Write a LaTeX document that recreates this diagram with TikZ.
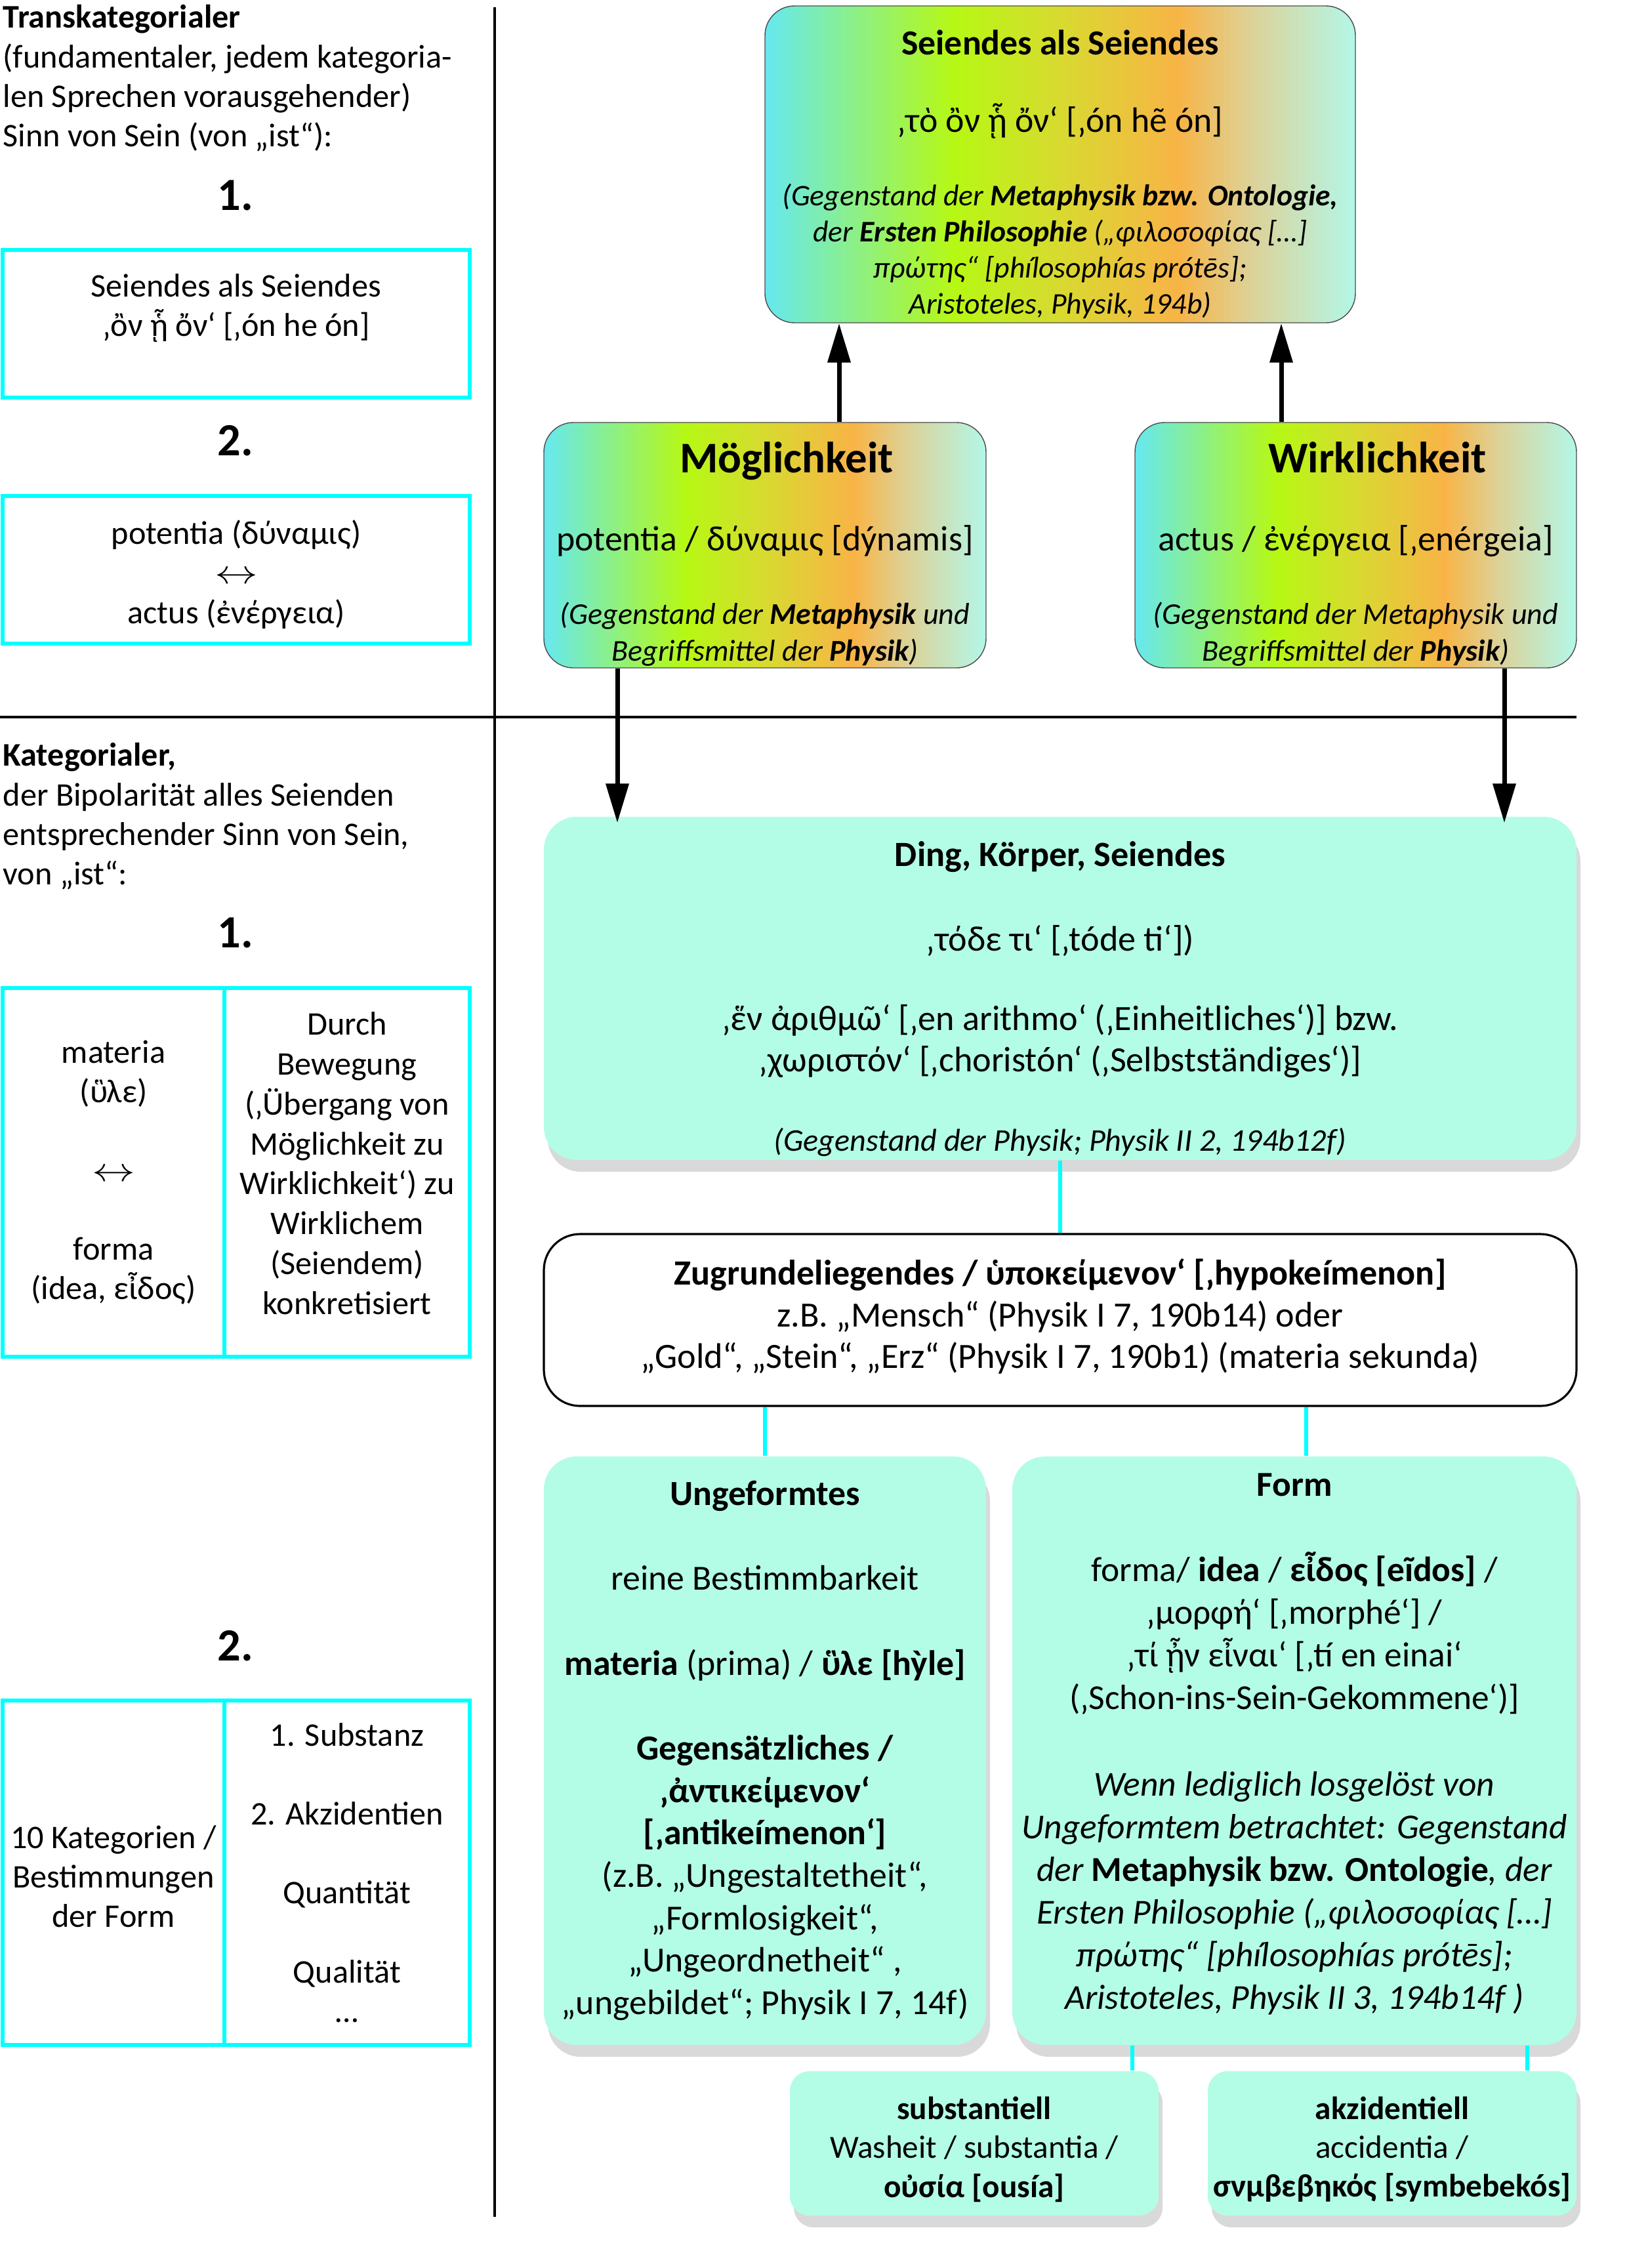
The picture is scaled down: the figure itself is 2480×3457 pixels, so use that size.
\documentclass[tikz,border=0pt]{standalone}
\usepackage{fontspec}
\usepackage{graphicx}
\setmainfont{Carlito}
\usetikzlibrary{arrows.meta,shadows}
\definecolor{aqua}{HTML}{00FFFF}
\definecolor{mint}{HTML}{B3FDE6}
\definecolor{gcyan}{HTML}{66E8F0}
\definecolor{glime}{HTML}{B6F814}
\definecolor{gsand}{HTML}{D8DA30}
\definecolor{gorange}{HTML}{F8B446}
\definecolor{gtan}{HTML}{DDD196}
\definecolor{gmint}{HTML}{B3F7E8}
\pgfdeclarehorizontalshading{rainbow}{100bp}{color(0bp)=(gcyan); color(25bp)=(gcyan); color(41bp)=(glime); color(50bp)=(gsand); color(60bp)=(gorange); color(66bp)=(gtan); color(75bp)=(gmint); color(100bp)=(gmint)}
\newcommand{\fsz}[2]{\fontsize{#1}{#2}\selectfont}
% italic small line, first line lift, last line drop
\newcommand{\sm}[2]{{\fsz{#1}{#1}\itshape #2}}
\newcommand{\toph}[1]{\rule{0pt}{#1}}
\newcommand{\both}[1]{\rule[-#1]{0pt}{0pt}}
\newcommand{\lr}{\scalebox{1.3}[1]{$\leftrightarrow$}}
\tikzset{
  gradbox/.style={draw=black!70, line width=0.4pt, shading=rainbow, rounded corners=4.5mm, align=center, inner sep=0pt},
  mintbox/.style={fill=mint, rounded corners=5mm, align=center, inner sep=0pt, drop shadow={shadow xshift=0.6mm, shadow yshift=-1.8mm, opacity=0.3}},
  plainbox/.style={draw=black, line width=0.9pt, fill=white, rounded corners=5.5mm, align=center, inner sep=0pt},
  cell/.style={draw=aqua, line width=0.66mm, align=center, inner sep=0pt, font=\fsz{14.3}{17.1}},
  lead/.style={anchor=north west, align=left, inner sep=0pt, font=\fsz{14.3}{17.1}},
  numeral/.style={font=\fsz{20}{24}\bfseries, inner sep=0pt},
  flow/.style={-{Triangle[length=6mm, width=3.4mm]}, line width=0.7mm},
  link/.style={draw=aqua, line width=0.6mm},
}

\begin{document}
\begin{tikzpicture}[x=0.1mm, y=-0.1mm]
\useasboundingbox (0,0) rectangle (2480,3457);
% left column
\node[lead] (transkat) at (4,7) {\textbf{Transkategorialer}\\ (fundamentaler, jedem kategoria-\\ len Sprechen vorausgehender)\\ Sinn von Sein (von „ist“):};
\node[numeral] (eins1) at (359,298) {1.};
\node[cell, minimum width=71.2mm, minimum height=22.5mm] (ousia) at (360,493.5) {\toph{16pt}Seiendes als Seiendes\\ ‚ὂν ᾗ ὄν‘ [‚ón he ón]\\ \strut};
\node[numeral] (zwei1) at (359,672) {2.};
\node[cell, minimum width=71.2mm, minimum height=22.5mm] (dynamis) at (360,868.5) {\toph{14.5pt}potentia (δύναμις)\\ \lr\\ actus (ἐνέργεια)};
\node[lead] (kateg) at (4,1132) {\textbf{Kategorialer,}\\ der Bipolarität alles Seienden\\ entsprechender Sinn von Sein,\\ von „ist“:};
\node[numeral] (eins2) at (359,1422) {1.};
\node[cell, minimum width=33.8mm, minimum height=56.2mm] (materia) at (173,1787) {materia\\ (ὓλε)\\[17.1pt] \lr\\[17.1pt] forma\\ (idea, εἶδος)};
\node[cell, minimum width=37.4mm, minimum height=56.2mm, font=\fsz{14.3}{17.3}] (bewegung) at (529,1787) {Durch\\ Bewegung\\ (‚Übergang von\\ Möglichkeit zu\\ Wirklichkeit‘) zu\\ Wirklichem\\ (Seiendem)\\ konkretisiert\both{8pt}};
\node[numeral] (zwei2) at (359,2509) {2.};
\node[cell, minimum width=33.8mm, minimum height=52.5mm] (kat) at (173,2854.5) {\toph{13pt}10 Kategorien /\\ Bestimmungen\\ der Form};
\node[cell, minimum width=37.4mm, minimum height=52.5mm] (liste) at (529,2854.5) {1. Substanz\\[17.1pt] 2. Akzidentien\\[17.1pt] Quantität\\[17.1pt] Qualität\\ …};
\draw[line width=0.45mm] (754,11) -- (754,3379);
\draw[line width=0.45mm] (0,1093) -- (2403,1093);
% right column
\node[gradbox, minimum width=90mm, minimum height=48.3mm, font=\fsz{15.3}{15.7}] (seiendes) at (1616,250.5) {\toph{19.5pt}\textbf{Seiendes als Seiendes}\\[18pt] ‚τὸ ὂν ᾗ ὄν‘ [‚ón hẽ ón]\\[16pt] \sm{13}{(Gegenstand der \textbf{Metaphysik bzw. Ontologie,}}\\ \sm{13}{der \textbf{Ersten Philosophie} („φιλοσοφίας […]}\\ \sm{13}{πρώτης“ [phílosophías prótēs];}\\ \sm{13}{Aristoteles, Physik, 194b)}};
\node[gradbox, minimum width=67.4mm, minimum height=37.4mm, font=\fsz{15.3}{15.9}] (moeg) at (1166,831) {\toph{21pt}\hspace*{6.6mm}{\fsz{19}{15.9}\bfseries Möglichkeit}\\[18pt] potentia / δύναμις [dýnamis]\\[16pt] \sm{13.1}{(Gegenstand der \textbf{Metaphysik} und}\\ \sm{13.1}{Begriffsmittel der \textbf{Physik})}};
\node[gradbox, minimum width=67.3mm, minimum height=37.4mm, font=\fsz{15.3}{15.9}] (wirk) at (2066.5,831) {\toph{21pt}\hspace*{6.6mm}{\fsz{19}{15.9}\bfseries Wirklichkeit}\\[18pt] actus / ἐνέργεια [‚enérgeia]\\[16pt] \sm{13.1}{(Gegenstand der Metaphysik und}\\ \sm{13.1}{Begriffsmittel der \textbf{Physik})}};
\node[mintbox, minimum width=157.4mm, minimum height=52.3mm, font=\fsz{15.4}{18.1}] (ding) at (1616,1506.5) {\toph{19.8pt}\textbf{Ding, Körper, Seiendes}\\[18.7pt] ‚τόδε τι‘ [‚tóde ti‘])\\[16.2pt] ‚ἕν ἀριθμῶ‘ [‚en arithmo‘ (‚Einheitliches‘)] bzw.\\ ‚χωριστόν‘ [‚choristón‘ (‚Selbstständiges‘)]\\[16.2pt] \sm{13.7}{(Gegenstand der Physik; Physik II 2, 194b12f)}};
\node[plainbox, minimum width=157.4mm, minimum height=26.2mm, font=\fsz{15.4}{18.1}] (grund) at (1616,2012) {\textbf{Zugrundeliegendes / ὑποκείμενον‘ [‚hypokeímenon]}\\ z.B. „Mensch“ (Physik I 7, 190b14) oder\\ „Gold“, „Stein“, „Erz“ (Physik I 7, 190b1) (materia sekunda)\both{5.5pt}};
\node[mintbox, minimum width=67.4mm, minimum height=89.7mm, font=\fsz{15.3}{18.4}] (unge) at (1166,2668.5) {\textbf{Ungeformtes}\\[18.4pt] reine Bestimmbarkeit\\[18.4pt] \textbf{materia} (prima) / \textbf{ὓλε [hỳle]}\\[18.4pt] \textbf{Gegensätzliches /}\\ \textbf{‚ἀντικείμενον‘}\\ \textbf{{}[‚antikeímenon‘]}\\ (z.B. „Ungestaltetheit“,\\ „Formlosigkeit“,\\ „Ungeordnetheit“ ,\\ „ungebildet“; Physik I 7, 14f)};
\node[mintbox, minimum width=86mm, minimum height=89.7mm, font=\fsz{15.2}{18.5}] (form) at (1973,2668.5) {\textbf{Form}\\[18.5pt] forma/ \textbf{idea} / \textbf{εἶδος [eĩdos]} /\\ ‚μορφή‘ [‚morphé‘] /\\ ‚τί ᾖν εἶναι‘ [‚tí en einai‘\\ (‚Schon-ins-Sein-Gekommene‘)]\\[19pt] \sm{15.2}{Wenn lediglich losgelöst von}\\ \sm{15.2}{Ungeformtem betrachtet: Gegenstand}\\ \sm{15.2}{der \textbf{\upshape Metaphysik bzw. Ontologie}, der}\\ \sm{15.2}{Ersten Philosophie („φιλοσοφίας […]}\\ \sm{15.2}{πρώτης“ [phílosophías prótēs];}\\ \sm{15.2}{Aristoteles, Physik II 3, 194b14f )}\both{8pt}};
\node[mintbox, minimum width=56.2mm, minimum height=22mm, rounded corners=3mm, font=\fsz{14}{16.9}] (subst) at (1485,3267) {\toph{15pt}\textbf{substantiell}\\ Washeit / substantia /\\ \textbf{οὐσία [ousía]}};
\node[mintbox, minimum width=56.2mm, minimum height=22mm, rounded corners=3mm, font=\fsz{14}{16.9}] (akz) at (2122,3267) {\toph{15pt}\textbf{akzidentiell}\\ accidentia /\\ \textbf{σνμβεβηκός [symbebekós]}};
% connectors
\coordinate (ua) at (1279,0);
\coordinate (ub) at (1953,0);
\coordinate (da) at (941,0);
\coordinate (db) at (2293,0);
\coordinate (fa) at (1991,0);
\coordinate (sa) at (1726,0);
\coordinate (sb) at (2328,0);
\draw[flow] (ua |- moeg.north) -- (ua |- seiendes.south);
\draw[flow] (ub |- wirk.north) -- (ub |- seiendes.south);
\draw[flow] (da |- moeg.south) -- ([yshift=-1mm]da |- ding.north);
\draw[flow] (db |- wirk.south) -- ([yshift=-1mm]db |- ding.north);
\draw[link] (ding.south) -- (grund.north);
\draw[link] (unge.north |- grund.south) -- (unge.north);
\draw[link] (fa |- grund.south) -- (fa |- form.north);
\draw[link] (sa |- form.south) -- (sa |- subst.north);
\draw[link] (sb |- form.south) -- (sb |- akz.north);
\end{tikzpicture}
\end{document}
